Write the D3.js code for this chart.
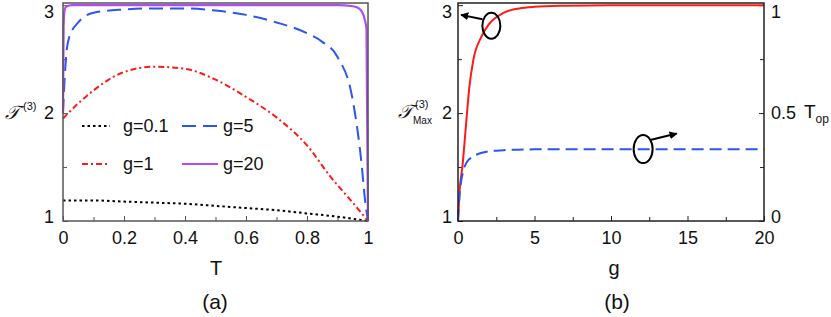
<!DOCTYPE html>
<html>
<head>
<meta charset="utf-8">
<script src="https://cdn.jsdelivr.net/npm/d3@7"></script>
<style>
  body { margin: 0; background: #fff; }
  text { font-family: "Liberation Sans", Arial, sans-serif; fill: #111; }
</style>
</head>
<body>
<div id="chart"></div>
<script>
// panel (a): T^(3) vs T for several g
const tA01 = [0, 0.1, 0.2, 0.3, 0.4, 0.5, 0.6, 0.7, 0.8, 0.9, 1];
const yA01 = [1.19, 1.19, 1.18, 1.17, 1.16, 1.14, 1.12, 1.10, 1.07, 1.04, 1.0];

const tA1 = [0, 0.05, 0.1, 0.2, 0.3, 0.4, 0.5, 0.6, 0.7, 0.8, 0.88, 0.95, 1];
const yA1 = [1.95, 2.09, 2.21, 2.38, 2.43, 2.41, 2.31, 2.15, 1.96, 1.70, 1.40, 1.17, 1.0];

const tA5 = [0, 0.005, 0.01, 0.02, 0.05, 0.1, 0.2, 0.3, 0.4, 0.5, 0.6, 0.7, 0.8, 0.85, 0.9, 0.95, 0.98, 0.99, 1];
const yA5 = [2.0, 2.3, 2.52, 2.70, 2.84, 2.93, 2.96, 2.97, 2.97, 2.95, 2.91, 2.84, 2.74, 2.66, 2.52, 2.12, 1.5, 1.2, 1.0];

const tA20 = [0, 0.002, 0.005, 0.01, 0.03, 0.1, 0.5, 0.9, 0.95, 0.97, 0.98, 0.99, 0.995, 1];
const yA20 = [2.0, 2.8, 2.95, 2.985, 3.0, 3.0, 3.0, 3.0, 2.99, 2.97, 2.94, 2.86, 2.78, 1.0];

const legendLabels = ["g=0.1", "g=5", "g=1", "g=20"];

// panel (b): T_max^(3) (left) and T_op (right) vs g
const gRed = [0, 0.1, 0.3, 0.5, 0.75, 1, 1.5, 2, 3, 4, 5, 7, 10, 15, 20];
const yRed = [1.0, 1.27, 1.52, 1.85, 2.25, 2.49, 2.70, 2.82, 2.93, 2.97, 2.985, 2.995, 3.0, 3.0, 3.0];

const gBlue = [0, 0.1, 0.2, 0.4, 0.6, 0.8, 1, 1.5, 2, 3, 5, 10, 20];
const yBlue = [0, 0.12, 0.18, 0.245, 0.275, 0.29, 0.30, 0.315, 0.323, 0.328, 0.332, 0.333, 0.333];

const tTicksA = [0, 0.2, 0.4, 0.6, 0.8, 1];
const gTicksB = [0, 5, 10, 15, 20];
const yTicks = [1, 2, 3];
const topTicks = [0, 0.5, 1];

let svg = d3.select("#chart")
    .append("svg")
    .attr("width", 831)
    .attr("height", 317);

let defs = svg.append("defs");
defs.append("marker")
    .attr("id", "arrowhead")
    .attr("viewBox", "0 0 10 10")
    .attr("refX", 9)
    .attr("refY", 5)
    .attr("markerWidth", 4)
    .attr("markerHeight", 4)
    .attr("orient", "auto")
    .append("path")
    .attr("d", "M0,0 L10,5 L0,10 z")
    .style("fill", "#000");

let plotTop = 3, plotBottom = 221;

// shared axis drawing helpers
function frame(g, x0, x1, color) {
    g.append("rect")
        .attr("x", x0)
        .attr("y", plotTop)
        .attr("width", x1 - x0)
        .attr("height", plotBottom - plotTop)
        .style("fill", "none")
        .style("stroke", color)
        .style("stroke-width", 1.5);
}

function styleAxis(sel, color) {
    sel.select(".domain").remove();
    sel.selectAll(".tick line").style("stroke", color).style("stroke-width", 1);
    sel.selectAll("text").style("font-size", "18px").style("fill", "#111")
        .style("font-family", "'Liberation Sans', Arial, sans-serif");
}

let fmt = d3.format("");

/* ---------- panel (a) ---------- */
let xA = d3.scaleLinear().domain([0, 1]).range([63, 368]);
let yA = d3.scaleLinear().domain([1, 3.02]).range([plotBottom, plotTop]);

let pa = svg.append("g");

let axA = pa.append("g")
    .attr("transform", "translate(0," + plotBottom + ")")
    .call(d3.axisBottom(xA).tickValues(tTicksA).tickSizeInner(-5).tickSizeOuter(0).tickPadding(10)
        .tickFormat(fmt));
styleAxis(axA, "#555");
pa.append("g")
    .attr("transform", "translate(0," + plotBottom + ")")
    .call(d3.axisBottom(xA).tickValues(d3.range(0.1, 1, 0.2)).tickSizeInner(-4).tickSizeOuter(0).tickFormat(""))
    .call(s => styleAxis(s, "#555"));

let ayA = pa.append("g")
    .attr("transform", "translate(63,0)")
    .call(d3.axisLeft(yA).tickValues(yTicks).tickSizeInner(-5).tickSizeOuter(0).tickPadding(9).tickFormat(fmt));
styleAxis(ayA, "#555");
ayA.selectAll(".tick text").attr("dy", d => d === 3 ? "0.7em" : d === 1 ? "0.1em" : "0.32em");
pa.append("g")
    .attr("transform", "translate(63,0)")
    .call(d3.axisLeft(yA).tickValues([1.5, 2.5]).tickSizeInner(-4).tickSizeOuter(0).tickFormat(""))
    .call(s => styleAxis(s, "#555"));

let seriesA = [
    { t: tA01, v: yA01, color: "#000000", dash: "2.5,3", width: 2 },
    { t: tA1, v: yA1, color: "#ff1a1a", dash: "6,3,2,3", width: 2 },
    { t: tA5, v: yA5, color: "#2b55f0", dash: "14,7", width: 2 },
    { t: tA20, v: yA20, color: "#b04cf2", dash: null, width: 2.2 }
];

let lineA = d3.line()
    .curve(d3.curveMonotoneX)
    .x(function (d) { return xA(d[0]); })
    .y(function (d) { return yA(d[1]); });

seriesA.forEach(function (s) {
    pa.append("path")
        .datum(d3.zip(s.t, s.v))
        .attr("d", lineA)
        .style("fill", "none")
        .style("stroke", s.color)
        .style("stroke-width", s.width)
        .style("stroke-dasharray", s.dash);
});

frame(pa, 63, 368, "#555");

// legend: two columns, two rows
let legendOrder = [0, 2, 1, 3];
legendLabels.forEach(function (lab, i) {
    let s = seriesA[legendOrder[i]];
    let col = i % 2, row = Math.floor(i / 2);
    let lx = col === 0 ? 82 : 182;
    let ly = row === 0 ? 126 : 164;
    pa.append("line")
        .attr("x1", lx).attr("x2", lx + (col === 0 ? 28 : 36))
        .attr("y1", ly).attr("y2", ly)
        .style("stroke", s.color)
        .style("stroke-width", s.width)
        .style("stroke-dasharray", s.dash);
    pa.append("text")
        .attr("x", col === 0 ? 123 : 223)
        .attr("y", ly)
        .attr("dy", "0.35em")
        .style("font-size", "18px")
        .text(lab);
});

pa.append("text")
    .attr("x", 216).attr("y", 268).attr("dy", "0.35em")
    .style("text-anchor", "middle").style("font-size", "20px")
    .text("T");
pa.append("text")
    .attr("x", 215).attr("y", 302).attr("dy", "0.35em")
    .style("text-anchor", "middle").style("font-size", "21px")
    .text("(a)");

let labA = pa.append("text").attr("x", 5).attr("y", 119);
labA.append("tspan").style("font-size", "19px").style("font-family", "'DejaVu Serif', serif").style("font-style", "italic").text("\uD835\uDCAF");
labA.append("tspan").attr("x", 23).attr("dy", -9).style("font-size", "11px").text("(3)");

/* ---------- panel (b) ---------- */
let xB = d3.scaleLinear().domain([0, 20]).range([458, 764]);
let yB = d3.scaleLinear().domain([1, 3.02]).range([plotBottom, plotTop]);
let yR = d3.scaleLinear().domain([0, 1.01]).range([plotBottom, plotTop]);

let pb = svg.append("g");

pb.append("g")
    .attr("transform", "translate(0," + plotBottom + ")")
    .call(d3.axisBottom(xB).tickValues(gTicksB).tickSizeInner(-5).tickSizeOuter(0).tickPadding(10).tickFormat(fmt))
    .call(s => styleAxis(s, "#222"));
pb.append("g")
    .attr("transform", "translate(0," + plotBottom + ")")
    .call(d3.axisBottom(xB).tickValues([2.5, 7.5, 12.5, 17.5]).tickSizeInner(-4).tickSizeOuter(0).tickFormat(""))
    .call(s => styleAxis(s, "#222"));

let ayB = pb.append("g")
    .attr("transform", "translate(458,0)")
    .call(d3.axisLeft(yB).tickValues(yTicks).tickSizeInner(-5).tickSizeOuter(0).tickPadding(6).tickFormat(fmt));
styleAxis(ayB, "#222");
ayB.selectAll(".tick text").attr("dy", d => d === 3 ? "0.7em" : d === 1 ? "0.1em" : "0.32em");
pb.append("g")
    .attr("transform", "translate(458,0)")
    .call(d3.axisLeft(yB).tickValues([1.5, 2.5]).tickSizeInner(-4).tickSizeOuter(0).tickFormat(""))
    .call(s => styleAxis(s, "#222"));

let ayR = pb.append("g")
    .attr("transform", "translate(764,0)")
    .call(d3.axisRight(yR).tickValues(topTicks).tickSizeInner(-5).tickSizeOuter(0).tickPadding(7)
        .tickFormat(fmt));
styleAxis(ayR, "#222");
ayR.selectAll(".tick text").attr("dy", d => d === 1 ? "0.7em" : d === 0 ? "0.1em" : "0.32em");
pb.append("g")
    .attr("transform", "translate(764,0)")
    .call(d3.axisRight(yR).tickValues([0.25, 0.75]).tickSizeInner(-4).tickSizeOuter(0).tickFormat(""))
    .call(s => styleAxis(s, "#222"));

pb.append("path")
    .datum(d3.zip(gRed, yRed))
    .attr("d", d3.line().curve(d3.curveMonotoneX)
        .x(function (d) { return xB(d[0]); })
        .y(function (d) { return yB(d[1]); }))
    .style("fill", "none")
    .style("stroke", "#ff1a1a")
    .style("stroke-width", 2);

pb.append("path")
    .datum(d3.zip(gBlue, yBlue))
    .attr("d", d3.line().curve(d3.curveMonotoneX)
        .x(function (d) { return xB(d[0]); })
        .y(function (d) { return yR(d[1]); }))
    .style("fill", "none")
    .style("stroke", "#2b55f0")
    .style("stroke-width", 2)
    .style("stroke-dasharray", "12,6");

frame(pb, 458, 764, "#222");

// ellipse + arrow annotations
pb.append("ellipse")
    .attr("cx", xB(2.18)).attr("cy", yB(2.81))
    .attr("rx", 9).attr("ry", 13)
    .style("fill", "none").style("stroke", "#000").style("stroke-width", 2);
pb.append("line")
    .attr("x1", xB(1.6)).attr("y1", yB(2.87))
    .attr("x2", xB(0.2)).attr("y2", yB(2.91))
    .style("stroke", "#000").style("stroke-width", 2)
    .attr("marker-end", "url(#arrowhead)");

pb.append("ellipse")
    .attr("cx", xB(12.1)).attr("cy", yR(0.333))
    .attr("rx", 9.5).attr("ry", 14)
    .style("fill", "none").style("stroke", "#000").style("stroke-width", 2);
pb.append("line")
    .attr("x1", xB(12.56)).attr("y1", yR(0.375))
    .attr("x2", xB(14.3)).attr("y2", yR(0.405))
    .style("stroke", "#000").style("stroke-width", 2)
    .attr("marker-end", "url(#arrowhead)");

pb.append("text")
    .attr("x", 614).attr("y", 268).attr("dy", "0.35em")
    .style("text-anchor", "middle").style("font-size", "20px")
    .text("g");
pb.append("text")
    .attr("x", 617).attr("y", 302).attr("dy", "0.35em")
    .style("text-anchor", "middle").style("font-size", "21px")
    .text("(b)");

let labB = pb.append("text").attr("x", 398).attr("y", 118);
labB.append("tspan").style("font-size", "19px").style("font-family", "'DejaVu Serif', serif").style("font-style", "italic").text("\uD835\uDCAF");
labB.append("tspan").attr("x", 415).attr("dy", -10).style("font-size", "11px").text("(3)");
labB.append("tspan").attr("x", 413).attr("dy", 16).style("font-size", "10px").text("Max");

let labR = pb.append("text").attr("x", 804).attr("y", 118);
labR.append("tspan").style("font-size", "19px").text("T");
labR.append("tspan").attr("dy", 5).style("font-size", "12px").text("op");
</script>
</body>
</html>
